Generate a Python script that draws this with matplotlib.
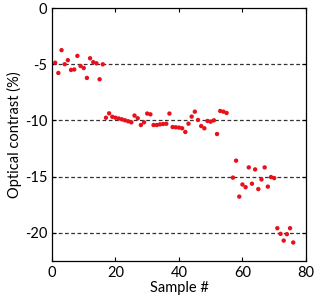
import numpy as np
import matplotlib
matplotlib.use('Agg')
import matplotlib.pyplot as plt

plt.rcParams['font.family'] = ['Lato', 'DejaVu Sans']
plt.rcParams['axes.unicode_minus'] = False

# sample numbers and optical contrast (%)
sample = list(range(1, 56)) + list(range(57, 77))
contrast = [
    -4.87, -5.78, -3.75, -5.00, -4.64, -5.51, -5.47, -4.26, -5.16, -5.34,
    -6.22, -4.47, -4.82, -4.92, -6.34, -5.01,
    -9.76, -9.37, -9.68, -9.76, -9.83, -9.90, -9.99, -10.08, -10.17,
    -9.57, -9.81, -10.41, -10.17, -9.39, -9.46, -10.41, -10.41, -10.35,
    -10.32, -10.30, -9.39, -10.59, -10.61, -10.64, -10.70, -11.03, -10.29,
    -9.66, -9.22, -9.96, -10.50, -10.70, -10.05, -10.11, -9.99, -11.21,
    -9.16, -9.22, -9.34,
    -15.09, -13.58, -16.78, -15.70, -15.94, -14.18, -15.63, -14.36, -16.11,
    -15.25, -14.18, -15.89, -15.04, -15.13,
    -19.59, -20.09, -20.69, -20.12, -19.59, -20.86,
]
levels = [-5, -10, -15, -20]
xticks = [0, 20, 40, 60, 80]
yticks = [0, -5, -10, -15, -20]

fig = plt.figure(figsize=(3.19, 3.02), dpi=100)
ax = fig.add_axes([0.163, 0.136, 0.796, 0.8375])

for lv in levels:
    ax.axhline(lv, color='#333333', lw=0.9, dashes=(3, 2), zorder=1)

ax.scatter(sample, contrast, s=10, color='#e8101a', edgecolors='none', zorder=3)

ax.set_xlim(0, 80)
ax.set_ylim(-22.5, 0)
ax.set_xticks(xticks)
ax.set_yticks(yticks)
ax.tick_params(direction='in', top=True, right=True, labelsize=10.5, length=3, width=0.8)
for sp in ax.spines.values():
    sp.set_linewidth(0.9)
ax.set_xlabel('Sample #', fontsize=10.5, labelpad=1)
ax.set_ylabel('Optical contrast (%)', fontsize=10.5, labelpad=2)

fig.savefig('out.png', dpi=100)
